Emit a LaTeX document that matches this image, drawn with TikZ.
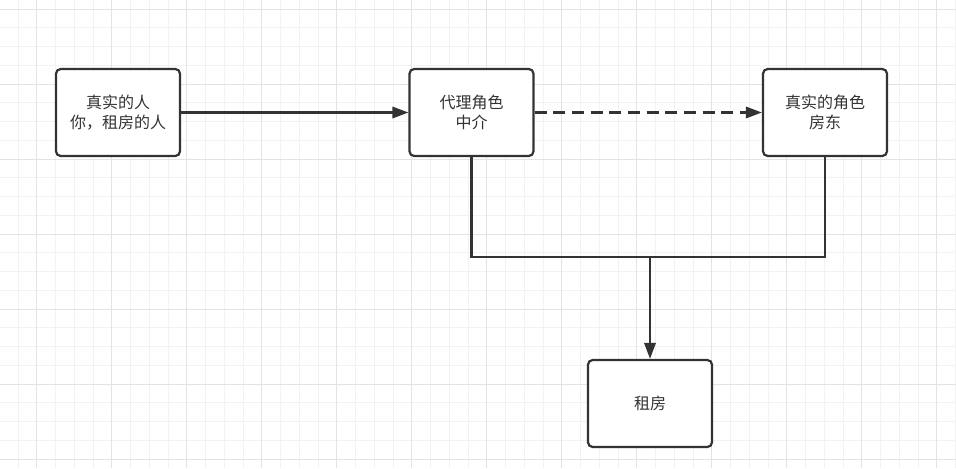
\documentclass[tikz,border=0pt]{standalone}
\usepackage{fontspec}
\newfontfamily\cjk{Noto Sans CJK SC}
\usetikzlibrary{arrows.meta}
\definecolor{ink}{HTML}{333333}
\definecolor{gridminor}{HTML}{F2F2F2}
\definecolor{gridmajor}{HTML}{E3E3E3}
\tikzset{
  box/.style={draw=ink, line width=1.65pt, rounded corners=3.5pt, fill=white,
    minimum width=93pt, minimum height=65.25pt, inner sep=0pt,
    align=center, text=ink, font=\cjk\fontsize{12}{15}\selectfont},
  conn/.style={draw=ink, line width=1.65pt},
  arr/.style={conn, -{Triangle[length=12pt,width=8.5pt]}},
  dashline/.style={arr, dash pattern=on 9pt off 5pt},
}
\begin{document}
\begin{tikzpicture}[x=0.75pt,y=-0.75pt]
\useasboundingbox (0,0) rectangle (956,468);
\fill[white] (0,0) rectangle (956,468);
% grid
\foreach \x in {-0.75,18,...,960}{\draw[gridminor,line width=0.75pt] (\x,0) -- (\x,468);}
\foreach \y in {9,27.75,...,470}{\draw[gridminor,line width=0.75pt] (0,\y) -- (956,\y);}
\foreach \x in {36.75,111.75,...,960}{\draw[gridmajor,line width=0.75pt] (\x,0) -- (\x,468);}
\foreach \y in {9,84,...,470}{\draw[gridmajor,line width=0.75pt] (0,\y) -- (956,\y);}
% nodes
\node[box] (b1) at (118,112.5) {真实的人\\你，租房的人};
\node[box] (b2) at (471.5,112.5) {代理角色\\中介};
\node[box] (b3) at (825,112.5) {真实的角色\\房东};
\node[box] (b4) at (650,403.5) {租房};
\coordinate (j) at (650,257);
% connectors
\draw[arr] (b1) -- (b2);
\draw[dashline] (b2) -- (b3);
\draw[conn] (b2.south) |- (j) -| (b3.south);
\draw[arr] (j) -- (b4.north);
\end{tikzpicture}
\end{document}
